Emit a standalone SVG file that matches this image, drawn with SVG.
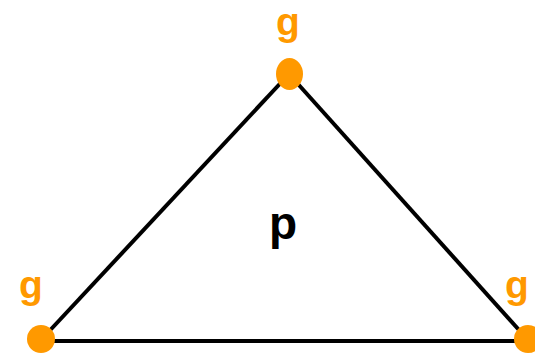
<svg xmlns="http://www.w3.org/2000/svg" width="535" height="357" viewBox="0 0 535 357">
<style>
.edge{stroke:#000;stroke-width:4;fill:none}
.dot{fill:#FF9900}
.gl{font-family:"Liberation Sans",Arial,sans-serif;font-weight:bold;font-size:39px;fill:#FF9900;text-anchor:middle}
.pl{font-family:"Liberation Sans",Arial,sans-serif;font-weight:bold;font-size:46px;fill:#000;text-anchor:middle}
</style>
<rect width="535" height="357" fill="#fff"/>
<g id="connectors">
<line class="edge" x1="289" y1="74" x2="41" y2="340"/>
<line class="edge" x1="289" y1="74" x2="528" y2="340"/>
<line class="edge" x1="41" y1="341" x2="528" y2="341"/>
</g>
<g id="face-p"><text class="pl" x="283" y="239">p</text></g>
<g id="node-top"><ellipse class="dot" cx="289.5" cy="74" rx="13.5" ry="16"/><text class="gl" x="288" y="35">g</text></g>
<g id="node-left"><circle class="dot" cx="41" cy="339" r="14"/><text class="gl" x="31" y="298">g</text></g>
<g id="node-right"><circle class="dot" cx="528" cy="339" r="14"/><text class="gl" x="517" y="298">g</text></g>
</svg>
